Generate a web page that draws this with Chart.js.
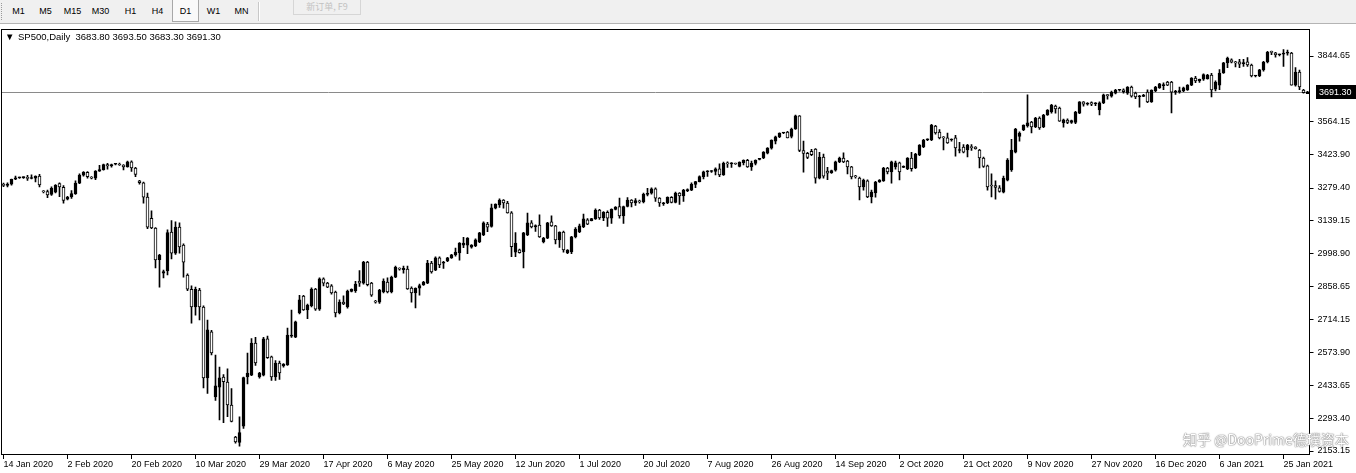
<!DOCTYPE html>
<html>
<head>
<meta charset="utf-8">
<script src="https://cdn.jsdelivr.net/npm/chart.js@4.4.1/dist/chart.umd.min.js"></script>
<style>
html, body { margin: 0; padding: 0; background: #fff; }
#wrap { position: relative; width: 1356px; height: 473px; overflow: hidden; font-family: "Liberation Sans", Arial, sans-serif; }
#toolbar { position: absolute; left: 0; top: 0; width: 1356px; height: 23px; background: #f0f0f0; border-bottom: 1px solid #b4b4b4; }
#toolbar .grip { position: absolute; left: 1px; top: 3px; width: 2px; height: 17px; border-left: 1px dotted #9a9a9a; }
#toolbar .tf { position: absolute; top: 0; height: 22px; line-height: 23px; width: 27px; text-align: center; font-size: 9px; color: #000; }
#toolbar .tf.on { background: #f9f9f9; border: 1px solid #a8a8a8; border-top: none; height: 22px; box-sizing: border-box; }
#toolbar .sep { position: absolute; left: 258px; top: 2px; width: 1px; height: 19px; background: #c8c8c8; border-right: 1px solid #fff; }
#toolbar .btn { position: absolute; left: 293px; top: 0; width: 68px; height: 15px; border: 1px solid #d6d6d6; border-top: none; box-sizing: border-box; font-size: 9px; line-height: 14px; color: #c2c2c2; text-align: center; font-family: "Noto Sans CJK SC", "Liberation Sans", sans-serif; }
#mark { position: absolute; left: 1183px; top: 429px; white-space: nowrap; font-family: "Noto Sans CJK SC", sans-serif; font-size: 14px; color: #fff; text-shadow: 0 0 1px #7a7a7a, 0 0 1px #7a7a7a, 0 0 2px #b0b0b0; }
canvas { position: absolute; left: 0; top: 0; }
</style>
</head>
<body>
<div id="wrap">
  <canvas id="chart" width="1356" height="473"></canvas>
  <div id="toolbar">
    <div class="grip"></div>
    <div class="tf" style="left:5px">M1</div>
    <div class="tf" style="left:32px">M5</div>
    <div class="tf" style="left:59px">M15</div>
    <div class="tf" style="left:87px">M30</div>
    <div class="tf" style="left:117px">H1</div>
    <div class="tf" style="left:144px">H4</div>
    <div class="tf on" style="left:172px">D1</div>
    <div class="tf" style="left:200px">W1</div>
    <div class="tf" style="left:228px">MN</div>
    <div class="sep"></div>
    <div class="btn">新订单, F9</div>
  </div>
  <div id="mark">知乎 @DooPrime德璞资本</div>
</div>
<script>
// daily SP500 bars, 14 Jan 2020 .. 1 Feb 2021 (Sunday stubs included, Saturdays absent)
// one line per week: Sun Mon Tue Wed Thu Fri
const opens = [
  3296, 3290, 3296, 3317,
  3323, 3324, 3325, 3320, 3321, 3330,
  3265, 3264, 3252, 3262, 3298, 3282,
  3232, 3241, 3255, 3300, 3334, 3346,
  3324, 3322, 3352, 3358, 3380, 3374,
  3381, 3382, 3378, 3370, 3392, 3365,
  3310, 3302, 3240, 3150, 3108, 2972,
  2915, 2924, 3091, 3000, 3112, 3035,
  2907, 2846, 2770, 2842, 2770, 2466,
  2663, 2385, 2427, 2470, 2448, 2350,
  2213, 2190, 2260, 2470, 2478, 2615,
  2470, 2478, 2633, 2556, 2470, 2530,
  2517, 2522, 2645, 2641, 2744,
  2817, 2757, 2775, 2847, 2760, 2890,
  2872, 2860, 2834, 2744, 2791, 2770,
  2836, 2840, 2880, 2872, 2962, 2872,
  2795, 2791, 2834, 2877, 2834, 2898,
  2935, 2930, 2932, 2851, 2830, 2850,
  2864, 2872, 2958, 2928, 2980, 2958,
  2967, 2980, 2993, 3001, 3035, 3035,
  3026, 3031, 3048, 3078, 3125, 3115,
  3193, 3207, 3228, 3215, 3173, 3005,
  3015, 3006, 3078, 3130, 3113, 3121,
  3048, 3065, 3134, 3117, 3057, 3091,
  3001, 3006, 3070, 3091, 3113, 3143,
  3140, 3147, 3185, 3151, 3175, 3150,
  3188, 3200, 3160, 3200, 3228, 3216,
  3222, 3220, 3252, 3257, 3276, 3236,
  3212, 3215, 3239, 3218, 3258, 3246,
  3268, 3270, 3295, 3307, 3328, 3349,
  3350, 3350, 3362, 3335, 3384, 3383,
  3383, 3372, 3388, 3398, 3370, 3385,
  3402, 3408, 3429, 3450, 3480, 3498,
  3515, 3519, 3500, 3532, 3588, 3440,
  3428, 3436, 3446, 3322, 3412, 3352,
  3345, 3356, 3391, 3408, 3395, 3370,
  3330, 3322, 3284, 3310, 3241, 3258,
  3305, 3310, 3365, 3348, 3370, 3387,
  3368, 3361, 3408, 3365, 3421, 3455,
  3486, 3485, 3545, 3519, 3494, 3494,
  3485, 3494, 3440, 3455, 3442, 3452,
  3455, 3442, 3408, 3374, 3290, 3290,
  3280, 3262, 3313, 3357, 3433, 3500,
  3528, 3545, 3562, 3541, 3579, 3541,
  3592, 3605, 3630, 3622, 3558, 3570,
  3560, 3560, 3600, 3648, 3638, 3645,
  3640, 3614, 3644, 3676, 3673, 3686,
  3698, 3700, 3686, 3712, 3686, 3670,
  3672, 3690, 3648, 3695, 3708, 3718,
  3733, 3733, 3690, 3692, 3695,
  3699, 3720, 3750, 3738, 3745,
  3748, 3763, 3703, 3720, 3772, 3815,
  3828, 3815, 3820, 3812, 3820, 3806,
  3759, 3759, 3785, 3819, 3860, 3858,
  3850, 3853, 3857, 3857, 3720, 3776,
  3699, 3683.8
];
const highs = [
  3300, 3302, 3318, 3330,
  3326, 3327, 3334, 3336, 3332, 3338,
  3268, 3270, 3284, 3294, 3302, 3290,
  3244, 3268, 3310, 3340, 3350, 3350,
  3328, 3354, 3376, 3382, 3385, 3382,
  3384, 3386, 3380, 3395, 3396, 3368,
  3312, 3305, 3258, 3182, 3110, 2995,
  2928, 3100, 3140, 3134, 3130, 3040,
  2912, 2860, 2855, 2850, 2775, 2714,
  2670, 2564, 2513, 2480, 2505, 2420,
  2216, 2300, 2470, 2573, 2635, 2640,
  2490, 2640, 2645, 2560, 2540, 2538,
  2528, 2680, 2757, 2710, 2820,
  2820, 2782, 2852, 2850, 2895, 2895,
  2875, 2866, 2838, 2800, 2818, 2842,
  2848, 2880, 2926, 2965, 2965, 2875,
  2798, 2845, 2890, 2895, 2902, 2945,
  2938, 2945, 2945, 2856, 2852, 2868,
  2880, 2970, 2965, 2985, 2985, 2965,
  2982, 2995, 3022, 3046, 3068, 3067,
  3037, 3062, 3090, 3134, 3132, 3211,
  3212, 3233, 3230, 3222, 3178, 3088,
  3018, 3090, 3172, 3140, 3122, 3164,
  3068, 3132, 3160, 3120, 3092, 3095,
  3016, 3072, 3110, 3125, 3168, 3148,
  3150, 3190, 3188, 3178, 3182, 3190,
  3200, 3236, 3202, 3238, 3230, 3234,
  3228, 3258, 3278, 3280, 3280, 3238,
  3218, 3242, 3243, 3262, 3260, 3274,
  3276, 3302, 3308, 3331, 3352, 3354,
  3354, 3366, 3383, 3390, 3392, 3388,
  3386, 3392, 3400, 3402, 3395, 3400,
  3406, 3435, 3452, 3486, 3502, 3516,
  3518, 3522, 3536, 3592, 3590, 3480,
  3432, 3445, 3448, 3432, 3425, 3368,
  3356, 3395, 3412, 3430, 3398, 3372,
  3334, 3326, 3318, 3314, 3270, 3308,
  3315, 3368, 3368, 3395, 3395, 3390,
  3374, 3410, 3432, 3428, 3465, 3488,
  3490, 3552, 3548, 3530, 3500, 3515,
  3490, 3505, 3475, 3465, 3466, 3465,
  3457, 3445, 3412, 3378, 3340, 3310,
  3290, 3330, 3405, 3488, 3535, 3520,
  3550, 3678, 3565, 3582, 3584, 3595,
  3615, 3638, 3634, 3626, 3575, 3576,
  3570, 3608, 3650, 3650, 3645, 3648,
  3645, 3648, 3682, 3680, 3694, 3702,
  3702, 3704, 3714, 3716, 3690, 3676,
  3680, 3700, 3700, 3715, 3728, 3730,
  3736, 3736, 3698, 3712, 3712,
  3722, 3752, 3758, 3746, 3768,
  3766, 3770, 3738, 3786, 3818, 3840,
  3832, 3822, 3830, 3830, 3838, 3810,
  3762, 3788, 3822, 3865, 3866, 3860,
  3853, 3872, 3870, 3860, 3795, 3784,
  3702, 3693.5
];
const lows = [
  3285, 3284, 3292, 3315,
  3320, 3320, 3312, 3318, 3305, 3284,
  3258, 3238, 3248, 3258, 3242, 3214,
  3228, 3235, 3252, 3298, 3330, 3322,
  3318, 3315, 3350, 3356, 3360, 3369,
  3378, 3376, 3357, 3369, 3350, 3328,
  3296, 3214, 3105, 3105, 2937, 2855,
  2894, 2907, 2976, 2995, 3000, 2898,
  2840, 2701, 2735, 2714, 2423, 2400,
  2565, 2370, 2286, 2275, 2300, 2278,
  2187, 2174, 2250, 2440, 2476, 2520,
  2465, 2475, 2550, 2455, 2455, 2460,
  2512, 2520, 2640, 2638, 2740,
  2755, 2720, 2770, 2755, 2755, 2860,
  2853, 2825, 2727, 2740, 2780, 2765,
  2834, 2832, 2858, 2868, 2860, 2815,
  2786, 2785, 2830, 2830, 2830, 2895,
  2928, 2915, 2845, 2791, 2766, 2820,
  2862, 2870, 2915, 2925, 2938, 2935,
  2964, 2978, 2988, 2970, 3024, 2998,
  3022, 3028, 3045, 3075, 3092, 3112,
  3190, 3196, 3193, 3172, 2985, 2985,
  3000, 2937, 3075, 3108, 3094, 3068,
  3044, 3062, 3115, 3040, 3025, 3005,
  2998, 2998, 3066, 3088, 3110, 3122,
  3138, 3145, 3145, 3140, 3115, 3128,
  3186, 3150, 3128, 3198, 3198, 3205,
  3214, 3215, 3245, 3253, 3222, 3200,
  3205, 3212, 3216, 3216, 3209, 3222,
  3264, 3268, 3281, 3305, 3318, 3329,
  3346, 3335, 3328, 3333, 3368, 3368,
  3380, 3370, 3378, 3368, 3355, 3378,
  3400, 3405, 3425, 3446, 3468, 3495,
  3512, 3494, 3494, 3530, 3435, 3347,
  3405, 3418, 3300, 3318, 3322, 3315,
  3342, 3352, 3388, 3388, 3340, 3318,
  3322, 3228, 3270, 3238, 3215, 3240,
  3303, 3308, 3340, 3300, 3360, 3314,
  3366, 3358, 3352, 3362, 3418, 3452,
  3482, 3482, 3510, 3490, 3442, 3470,
  3480, 3416, 3430, 3430, 3412, 3440,
  3446, 3365, 3368, 3270, 3241, 3232,
  3262, 3258, 3310, 3350, 3430, 3480,
  3525, 3540, 3515, 3538, 3530, 3538,
  3590, 3600, 3600, 3564, 3540, 3555,
  3556, 3555, 3598, 3630, 3634, 3632,
  3632, 3592, 3640, 3660, 3668, 3682,
  3694, 3685, 3680, 3668, 3662, 3626,
  3670, 3645, 3646, 3692, 3706, 3700,
  3718, 3601, 3680, 3685, 3692,
  3697, 3718, 3730, 3732, 3740,
  3745, 3669, 3695, 3700, 3770, 3795,
  3815, 3798, 3795, 3800, 3800, 3755,
  3755, 3756, 3780, 3815, 3850, 3840,
  3845, 3800, 3848, 3720, 3715, 3700,
  3686, 3683.3
];
const closes = [
  3290, 3296, 3317, 3323,
  3324, 3325, 3320, 3321, 3330, 3293,
  3263, 3250, 3278, 3291, 3284, 3226,
  3241, 3255, 3300, 3335, 3346, 3328,
  3322, 3352, 3358, 3380, 3374, 3380,
  3382, 3378, 3370, 3392, 3365, 3338,
  3302, 3240, 3112, 3108, 2971, 2992,
  2922, 3088, 3000, 3112, 3027, 2962,
  2846, 2770, 2846, 2770, 2466, 2672,
  2573, 2432, 2466, 2450, 2350, 2280,
  2192, 2232, 2468, 2487, 2615, 2530,
  2487, 2633, 2553, 2470, 2530, 2487,
  2525, 2650, 2650, 2706, 2800,
  2757, 2778, 2847, 2760, 2890, 2872,
  2855, 2830, 2744, 2791, 2783, 2838,
  2846, 2868, 2872, 2962, 2865, 2821,
  2791, 2842, 2881, 2834, 2898, 2940,
  2932, 2935, 2847, 2830, 2850, 2862,
  2877, 2958, 2920, 2980, 2950, 2962,
  2980, 2993, 3005, 3044, 3044, 3065,
  3035, 3057, 3087, 3130, 3112, 3194,
  3211, 3228, 3215, 3173, 3028, 3044,
  3002, 3087, 3130, 3113, 3118, 3070,
  3065, 3130, 3117, 3057, 3091, 3014,
  3014, 3070, 3104, 3117, 3147, 3125,
  3148, 3185, 3151, 3175, 3150, 3188,
  3198, 3160, 3200, 3228, 3216, 3225,
  3220, 3252, 3257, 3276, 3236, 3216,
  3215, 3239, 3218, 3258, 3246, 3271,
  3272, 3295, 3307, 3328, 3349, 3351,
  3351, 3362, 3335, 3385, 3383, 3384,
  3382, 3390, 3398, 3370, 3385, 3398,
  3404, 3433, 3450, 3485, 3498, 3515,
  3516, 3494, 3532, 3588, 3440, 3428,
  3410, 3422, 3322, 3412, 3330, 3343,
  3354, 3391, 3408, 3391, 3370, 3327,
  3327, 3284, 3313, 3241, 3262, 3305,
  3313, 3365, 3348, 3391, 3387, 3348,
  3370, 3408, 3362, 3425, 3463, 3485,
  3487, 3549, 3515, 3494, 3494, 3472,
  3487, 3451, 3444, 3433, 3463, 3452,
  3448, 3408, 3372, 3284, 3288, 3282,
  3265, 3322, 3399, 3442, 3532, 3515,
  3549, 3558, 3541, 3579, 3537, 3592,
  3613, 3635, 3618, 3566, 3571, 3560,
  3568, 3605, 3648, 3638, 3642, 3638,
  3641, 3644, 3678, 3675, 3690, 3699,
  3699, 3692, 3712, 3673, 3669, 3672,
  3677, 3648, 3699, 3712, 3725, 3720,
  3720, 3690, 3692, 3694, 3708,
  3720, 3750, 3738, 3745, 3765,
  3763, 3699, 3733, 3772, 3815, 3836,
  3818, 3815, 3810, 3815, 3806, 3759,
  3760, 3785, 3819, 3860, 3860, 3850,
  3852, 3855, 3858, 3720, 3776, 3712,
  3688, 3691.3
];

// time scale labels, one every 16 bars
const tickLabels = [
  '14 Jan 2020', '2 Feb 2020', '20 Feb 2020', '10 Mar 2020', '29 Mar 2020',
  '17 Apr 2020', '6 May 2020', '25 May 2020', '12 Jun 2020', '1 Jul 2020',
  '20 Jul 2020', '7 Aug 2020', '26 Aug 2020', '14 Sep 2020', '2 Oct 2020',
  '21 Oct 2020', '9 Nov 2020', '27 Nov 2020', '16 Dec 2020', '6 Jan 2021',
  '25 Jan 2021'
];
const priceTicks = [3844.65, 3564.15, 3423.90, 3279.40, 3139.15, 2998.90,
  2858.65, 2714.15, 2573.90, 2433.65, 2293.40, 2153.15];

const symbol = 'SP500,Daily';
const lastBar = [3683.80, 3693.50, 3683.30, 3691.30];
const bidPrice = 3691.30;

const FONT = '"Liberation Sans", Arial, sans-serif';

// frame, bid line, bid label and symbol header
const mt4Plugin = {
  id: 'mt4',
  beforeDatasetsDraw(chart) {
    const { ctx, chartArea: a, scales: { y } } = chart;
    const py = Math.round(y.getPixelForValue(bidPrice)) + 0.5;
    ctx.save();
    ctx.strokeStyle = '#8a8a8a';
    ctx.lineWidth = 1;
    ctx.beginPath();
    ctx.moveTo(a.left, py);
    ctx.lineTo(a.right, py);
    ctx.stroke();
    ctx.restore();
  },
  afterDraw(chart) {
    const { ctx, chartArea: a, scales: { y } } = chart;
    ctx.save();
    ctx.strokeStyle = '#000';
    ctx.lineWidth = 1;
    ctx.strokeRect(1.5, 29.5, 1308, 425);

    const py = Math.round(y.getPixelForValue(bidPrice));
    ctx.fillStyle = '#000';
    ctx.fillRect(1316, py - 7, 40, 14);
    ctx.fillStyle = '#fff';
    ctx.font = '9px ' + FONT;
    ctx.textBaseline = 'middle';
    ctx.fillText(bidPrice.toFixed(2), 1319, py + 0.5);

    ctx.fillStyle = '#000';
    ctx.font = '9.5px ' + FONT;
    ctx.fillText('\u25BC', 5, 37);
    ctx.fillText(symbol + '  ' + lastBar.map(v => v.toFixed(2)).join(' '), 18, 37);
    ctx.restore();
  }
};

const idx = opens.map((_, i) => i);

new Chart(document.getElementById('chart'), {
  type: 'bar',
  data: {
    labels: idx,
    datasets: [
      {
        label: 'body',
        data: opens.map((o, i) => [o, closes[i]]),
        backgroundColor: opens.map((o, i) => closes[i] > o ? '#000' : '#fff'),
        borderColor: '#000',
        borderWidth: 1,
        borderSkipped: false,
        barThickness: 3,
        minBarLength: 1,
        grouped: false,
        order: 0
      },
      {
        label: 'wick',
        data: lows.map((l, i) => [l, highs[i]]),
        backgroundColor: '#000',
        borderWidth: 0,
        barThickness: 1,
        grouped: false,
        order: 1
      }
    ]
  },
  options: {
    responsive: false,
    animation: false,
    events: [],
    layout: { padding: { top: 30, left: 1.5, right: 0, bottom: 0 } },
    plugins: { legend: { display: false }, tooltip: { enabled: false }, title: { display: false } },
    scales: {
      x: {
        type: 'category',
        offset: true,
        afterBuildTicks: s => { s.ticks = s.ticks.filter(t => t.value % 16 === 0); },
        afterFit: s => { s.height = 18; },
        grid: { display: true, drawOnChartArea: false, drawTicks: true, tickLength: 4, color: '#000', offset: false },
        border: { display: false },
        ticks: {
          autoSkip: false, maxRotation: 0, minRotation: 0, align: 'start', padding: 0,
          color: '#000', font: { size: 9, family: FONT },
          callback: v => tickLabels[v / 16]
        }
      },
      y: {
        position: 'right',
        min: 2136.05,
        max: 3955.99,
        afterBuildTicks: s => { s.ticks = priceTicks.map(v => ({ value: v })); },
        afterFit: s => { s.width = 46.5; },
        grid: { display: true, drawOnChartArea: false, drawTicks: true, tickLength: 4, color: '#000' },
        border: { display: false },
        ticks: {
          padding: 4, color: '#000', font: { size: 9, family: FONT },
          callback: v => Number(v).toFixed(2)
        }
      }
    }
  },
  plugins: [mt4Plugin]
});
</script>
</body>
</html>
